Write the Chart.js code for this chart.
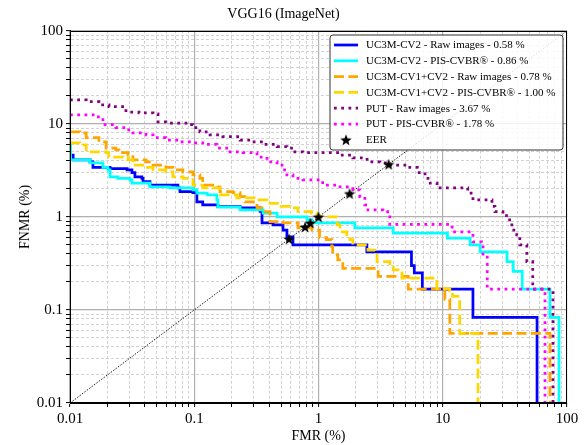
<!DOCTYPE html>
<html>
<head>
<meta charset="utf-8">
<script src="https://cdn.jsdelivr.net/npm/chart.js@4"></script>
<style>
  body { margin: 0; background: #fff; }
  #wrap { width: 588px; height: 445px; }
</style>
</head>
<body>
<div id="wrap"><canvas id="detChart" width="588" height="445"></canvas></div>
<script>
// axis ticks (percent, log scale)
const decadeTicks = [0.01, 0.1, 1, 10, 100];
const decadeLabels = ['0.01', '0.1', '1', '10', '100'];

// legend texts and EER per curve
const seriesLabels = [
    'UC3M-CV2 - Raw images - 0.58 %',
    'UC3M-CV2 - PIS-CVBR\u00ae - 0.86 %',
    'UC3M-CV1+CV2 - Raw images - 0.78 %',
    'UC3M-CV1+CV2 - PIS-CVBR\u00ae - 1.00 %',
    'PUT - Raw images - 3.67 %',
    'PUT - PIS-CVBR\u00ae - 1.78 %'
];
const eerValues = [0.58, 0.86, 0.78, 1.00, 3.67, 1.78];

// DET curves: FMR (%) where each FNMR level starts, FNMR (%) level
const uc3mRawFmr = [0.01, 0.0106, 0.0145, 0.0153, 0.021, 0.0288, 0.0315, 0.0333, 0.0379, 0.0387, 0.044, 0.0739, 0.0767, 0.0976, 0.105, 0.117, 0.155, 0.234, 0.339, 0.351, 0.431, 0.518, 0.557, 0.623, 2.45, 5.6, 5.9, 6.85, 17.5, 57.4];
const uc3mRawFnmr = [4.6, 4.1, 3.9, 3.4, 3.3, 3.2, 3.0, 2.7, 2.6, 2.4, 2.2, 2.05, 1.87, 1.82, 1.45, 1.35, 1.29, 1.25, 1.15, 0.86, 0.82, 0.72, 0.61, 0.5, 0.42, 0.3, 0.25, 0.167, 0.083, 0.001];

const uc3mPisFmr = [0.01, 0.0101, 0.0145, 0.0184, 0.0202, 0.021, 0.0243, 0.0304, 0.0315, 0.044, 0.0636, 0.0976, 0.105, 0.127, 0.152, 0.155, 0.234, 0.358, 0.464, 0.808, 0.888, 1.96, 3.99, 10.9, 16.6, 20.0, 32.9, 36.9, 43.6, 72.9, 86.2];
const uc3mPisFnmr = [6.0, 4.1, 3.8, 3.4, 3.2, 2.7, 2.6, 2.5, 2.3, 2.1, 2.05, 1.95, 1.8, 1.72, 1.52, 1.27, 1.19, 1.1, 1.0, 0.93, 0.86, 0.76, 0.67, 0.59, 0.5, 0.42, 0.33, 0.26, 0.167, 0.083, 0.001];

const cv12RawFmr = [0.01, 0.012, 0.0135, 0.0171, 0.0195, 0.0234, 0.0248, 0.0293, 0.0321, 0.0409, 0.0466, 0.0591, 0.0673, 0.0811, 0.0976, 0.111, 0.117, 0.152, 0.161, 0.205, 0.234, 0.256, 0.32, 0.351, 0.407, 0.518, 0.683, 0.888, 1.02, 1.16, 1.28, 1.3, 1.43, 1.57, 3.02, 5.28, 10.4, 11.4, 72.9];
const cv12RawFnmr = [8.2, 8.0, 7.1, 6.4, 5.5, 5.25, 4.9, 4.6, 4.1, 3.9, 3.6, 3.4, 3.2, 3.05, 2.83, 2.6, 2.2, 2.1, 1.87, 1.82, 1.65, 1.45, 1.25, 1.14, 0.89, 0.86, 0.76, 0.72, 0.6, 0.57, 0.48, 0.39, 0.345, 0.28, 0.23, 0.167, 0.13, 0.056, 0.001];

const cv12PisFmr = [0.01, 0.012, 0.0135, 0.0195, 0.0205, 0.0267, 0.0293, 0.0321, 0.0409, 0.0466, 0.0591, 0.0673, 0.0811, 0.0976, 0.117, 0.161, 0.22, 0.32, 0.385, 0.5, 0.589, 0.683, 0.88, 0.97, 1.02, 1.41, 1.49, 1.69, 1.79, 1.89, 2.5, 2.85, 2.96, 3.75, 3.99, 4.52, 4.7, 8.97, 11.4, 12.0, 13.7, 19.2];
const cv12PisFnmr = [6.25, 5.95, 5.0, 4.9, 4.4, 4.3, 4.1, 3.6, 3.4, 3.2, 3.05, 2.7, 2.6, 2.2, 2.05, 1.72, 1.6, 1.52, 1.4, 1.3, 1.25, 1.14, 1.1, 1.03, 1.0, 0.82, 0.69, 0.64, 0.57, 0.5, 0.44, 0.41, 0.33, 0.29, 0.27, 0.25, 0.22, 0.17, 0.16, 0.14, 0.056, 0.001];

const putRawFmr = [0.01, 0.0135, 0.0171, 0.0206, 0.0282, 0.0359, 0.0466, 0.0511, 0.0591, 0.0857, 0.0976, 0.111, 0.134, 0.17, 0.234, 0.282, 0.358, 0.464, 0.557, 0.623, 0.749, 1.49, 1.89, 2.46, 3.12, 3.75, 5.19, 6.24, 7.2, 7.93, 9.0, 15.9, 17.5, 24.9, 26.3, 30.5, 33.5, 36.0, 39.4, 41.7, 47.5, 53.0, 77.1];
const putRawFnmr = [18.1, 17.3, 16.0, 15.3, 13.4, 13.1, 12.8, 10.5, 10.2, 9.8, 9.1, 8.2, 7.6, 7.3, 6.7, 6.4, 6.0, 5.7, 5.5, 5.0, 4.9, 4.6, 4.3, 3.9, 3.8, 3.6, 3.4, 3.0, 2.6, 2.3, 2.05, 1.8, 1.52, 1.3, 1.14, 1.03, 0.93, 0.72, 0.64, 0.5, 0.33, 0.167, 0.001];

const putPisFmr = [0.01, 0.0162, 0.0184, 0.0234, 0.0282, 0.0321, 0.0409, 0.0466, 0.0591, 0.0753, 0.0976, 0.117, 0.152, 0.194, 0.247, 0.32, 0.385, 0.464, 0.509, 0.557, 0.623, 0.749, 1.08, 1.49, 1.89, 2.15, 2.36, 2.5, 3.3, 3.6, 3.75, 11.9, 17.5, 20.5, 21.1, 22.8, 66.5];
const putPisFnmr = [12.5, 11.9, 9.8, 9.1, 8.6, 8.0, 7.6, 7.1, 6.7, 6.4, 6.25, 6.0, 5.5, 5.0, 4.9, 4.4, 3.9, 3.6, 3.2, 2.83, 2.6, 2.5, 2.2, 2.1, 1.95, 1.65, 1.35, 1.19, 1.14, 1.05, 0.83, 0.69, 0.54, 0.5, 0.37, 0.167, 0.001];

const serif = "'Liberation Serif', 'DejaVu Serif', serif";

const toPoints = (xs, ys) => xs.map((x, i) => ({ x: x, y: ys[i] }));

// minor grid at 1..9 x each decade
const gridValues = [];
decadeTicks.slice(0, 4).forEach(d => {
    for (let m = 1; m <= 9; m++) gridValues.push(Number((d * m).toPrecision(3)));
});
gridValues.push(100);

// filled 5-point star like matplotlib '*'
function makeStar(r) {
    const c = document.createElement('canvas');
    const size = Math.ceil(r * 2 + 2);
    c.width = size;
    c.height = size;
    const g = c.getContext('2d');
    g.translate(size / 2, size / 2 + r * 0.1);
    g.beginPath();
    for (let i = 0; i < 10; i++) {
        const rad = i % 2 === 0 ? r : r * 0.42;
        const a = -Math.PI / 2 + i * Math.PI / 5;
        g.lineTo(rad * Math.cos(a), rad * Math.sin(a));
    }
    g.closePath();
    g.fillStyle = '#000';
    g.fill();
    return c;
}
const starImg = makeStar(6);

const curveStyles = [
    { color: '#0000ff', dash: [] },
    { color: '#00ffff', dash: [] },
    { color: '#ffa500', dash: [10, 4.4] },
    { color: '#ffd700', dash: [10, 4.4] },
    { color: '#800080', dash: [2.75, 4.5] },
    { color: '#ff00ff', dash: [2.75, 4.5] }
];

const curveData = [
    toPoints(uc3mRawFmr, uc3mRawFnmr),
    toPoints(uc3mPisFmr, uc3mPisFnmr),
    toPoints(cv12RawFmr, cv12RawFnmr),
    toPoints(cv12PisFmr, cv12PisFnmr),
    toPoints(putRawFmr, putRawFnmr),
    toPoints(putPisFmr, putPisFnmr)
];

const datasets = curveData.map((pts, i) => ({
    label: seriesLabels[i],
    data: pts,
    showLine: true,
    stepped: 'before',
    borderColor: curveStyles[i].color,
    borderDash: curveStyles[i].dash,
    borderWidth: 2.75,
    pointRadius: 0,
    fill: false,
    clip: 0,
    order: 6 - i
}));

datasets.push({
    label: 'EER',
    data: eerValues.map(v => ({ x: v, y: v })),
    showLine: false,
    pointStyle: starImg,
    pointRadius: 6,
    order: 0
});

datasets.push({
    label: 'diagonal',
    data: [{ x: 0.01, y: 0.01 }, { x: 100, y: 100 }],
    showLine: true,
    borderColor: '#000',
    borderWidth: 0.9,
    borderDash: [1.5, 1.5],
    pointRadius: 0,
    order: 8
});

function logAxis(titleText, horizontal) {
    return {
        type: 'logarithmic',
        min: 0.01,
        max: 100,
        afterBuildTicks: (scale) => {
            scale.ticks = gridValues.map(v => ({ value: v, major: decadeTicks.includes(v) }));
        },
        afterFit: (scale) => {
            if (horizontal) scale.height = 42;
            else scale.width = 70;
        },
        ticks: {
            autoSkip: false,
            maxRotation: 0,
            padding: 3,
            color: '#000',
            font: { family: serif, size: 15 },
            callback: (value) => {
                const i = decadeTicks.indexOf(Number(Number(value).toPrecision(3)));
                return i >= 0 ? decadeLabels[i] : '';
            }
        },
        grid: {
            color: (c) => (c.tick && c.tick.major) ? '#b0b0b0' : '#cdcdcd',
            lineWidth: (c) => (c.tick && c.tick.major) ? 1.2 : 0.9,
            tickColor: '#000',
            tickLength: 4,
            tickWidth: 1
        },
        border: {
            color: '#000',
            width: 1,
            dash: (c) => (c.tick && !c.tick.major) ? [3, 2] : []
        },
        title: {
            display: true,
            text: titleText,
            color: '#000',
            font: { family: serif, size: 14 },
            padding: horizontal ? { top: 0, bottom: 0 } : { top: 17, bottom: 0 }
        }
    };
}

// full black frame + matplotlib-like legend inside top right
const frameLegend = {
    id: 'frameLegend',
    afterDraw(chart) {
        const { ctx, chartArea: a } = chart;
        ctx.save();
        ctx.strokeStyle = '#000';
        ctx.lineWidth = 1;
        ctx.setLineDash([]);
        ctx.strokeRect(Math.round(a.left) + 0.5, Math.round(a.top) + 0.5,
            Math.round(a.right - a.left) - 1, Math.round(a.bottom - a.top) - 1);

        const bx = 330, by = 35, bw = 233, bh = 115, r = 3;
        ctx.beginPath();
        ctx.moveTo(bx + r, by);
        ctx.arcTo(bx + bw, by, bx + bw, by + bh, r);
        ctx.arcTo(bx + bw, by + bh, bx, by + bh, r);
        ctx.arcTo(bx, by + bh, bx, by, r);
        ctx.arcTo(bx, by, bx + bw, by, r);
        ctx.closePath();
        ctx.fillStyle = 'rgba(255,255,255,0.85)';
        ctx.fill();
        ctx.strokeStyle = '#333';
        ctx.stroke();

        ctx.font = '11px ' + serif;
        ctx.textBaseline = 'middle';
        ctx.fillStyle = '#000';
        const rowY = (i) => 45 + i * 15.8;
        seriesLabels.forEach((lab, i) => {
            const y = rowY(i);
            ctx.beginPath();
            ctx.strokeStyle = curveStyles[i].color;
            ctx.lineWidth = 2.75;
            ctx.setLineDash(curveStyles[i].dash);
            ctx.moveTo(334, y);
            ctx.lineTo(358, y);
            ctx.stroke();
            ctx.fillText(lab, 366, y + 0.5);
        });
        ctx.setLineDash([]);
        const ey = rowY(6);
        ctx.drawImage(starImg, 346 - starImg.width / 2, ey - starImg.height / 2);
        ctx.fillText('EER', 366, ey + 0.5);
        ctx.restore();
    }
};

const detChart = document.getElementById('detChart');

new Chart(detChart, {
    type: 'scatter',
    data: { datasets: datasets },
    options: {
        responsive: false,
        animation: false,
        layout: { padding: { left: 0, right: 21, top: 0, bottom: 0 } },
        scales: {
            x: logAxis('FMR (%)', true),
            y: logAxis('FNMR (%)', false)
        },
        plugins: {
            legend: { display: false },
            tooltip: { enabled: false },
            title: {
                display: true,
                text: 'VGG16 (ImageNet)',
                color: '#000',
                font: { family: serif, size: 14, weight: 'normal' },
                padding: { top: 6, bottom: 8 }
            }
        }
    },
    plugins: [frameLegend]
});
</script>
</body>
</html>
